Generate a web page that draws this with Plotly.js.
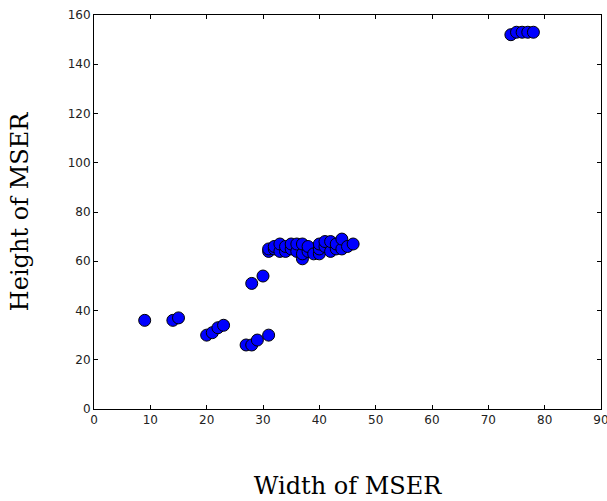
<!DOCTYPE html>
<html>
<head>
<meta charset="utf-8">
<script src="https://cdn.plot.ly/plotly-3.0.1.min.js"></script>
<style>html,body{margin:0;padding:0;background:#fff;}#chart{width:607px;height:501px;}</style>
</head>
<body>
<div id="chart"></div>
<script>
const widths = [9, 14, 15, 20, 21, 22, 23, 27, 28, 29, 31, 28, 30,
  31, 31, 32, 32, 33, 33, 34, 34, 35, 35, 36, 36, 37, 37, 37, 38, 38, 39, 40, 40, 40, 41, 41, 42, 42, 43, 43, 44, 44, 45, 46,
  74, 75, 76, 77, 78];
const heights = [36, 36, 37, 30, 31, 33, 34, 26, 26, 28, 30, 51, 54,
  64, 65, 65, 66, 64, 67, 64, 66, 65, 67, 64, 67, 61, 63, 67, 64, 66, 63, 63, 65, 67, 66, 68, 64, 68, 65, 67, 65, 69, 66, 67,
  152, 153, 153, 153, 153];
const xTicks = [0, 10, 20, 30, 40, 50, 60, 70, 80, 90];
const yTicks = [0, 20, 40, 60, 80, 100, 120, 140, 160];

const trace = {
  x: widths, y: heights, mode: 'markers', type: 'scatter',
  marker: {size: 12, color: '#0000ff', line: {color: '#000000', width: 1}},
  hoverinfo: 'x+y'
};
const axisCommon = {
  showgrid: false, zeroline: false, showline: true, linecolor: '#000', linewidth: 1,
  mirror: 'ticks', ticks: 'inside', ticklen: 4, tickcolor: '#000', tickwidth: 1,
  ticklabeloverflow: 'allow',
  tickfont: {family: 'DejaVu Sans', size: 12, color: '#222'}
};
const layout = {
  width: 607, height: 501,
  margin: {l: 94, r: 6, t: 15, b: 92},
  paper_bgcolor: '#fff', plot_bgcolor: '#fff',
  showlegend: false,
  xaxis: Object.assign({}, axisCommon, {
    range: [0, 90], tickvals: xTicks, ticktext: xTicks.map(String),
    title: {text: 'Width of MSER', font: {family: 'DejaVu Serif', size: 24, color: '#000'}, standoff: 50}
  }),
  yaxis: Object.assign({}, axisCommon, {
    range: [0, 160], tickvals: yTicks, ticktext: yTicks.map(String),
    title: {text: 'Height of MSER', font: {family: 'DejaVu Serif', size: 24, color: '#000'}, standoff: 32}
  })
};
Plotly.newPlot('chart', [trace], layout, {displayModeBar: false, staticPlot: true});
</script>
</body>
</html>
